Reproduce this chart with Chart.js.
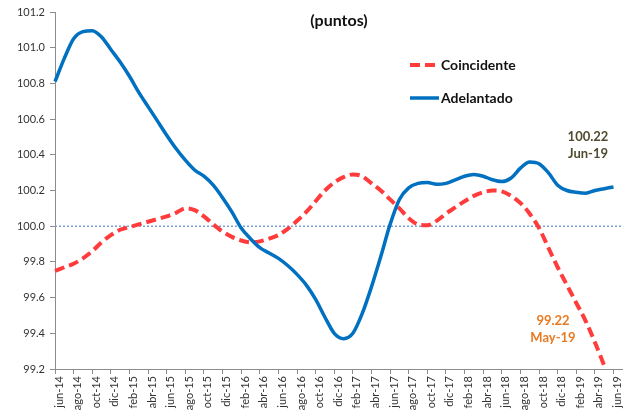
<!DOCTYPE html>
<html>
<head>
<meta charset="utf-8">
<script src="https://cdn.jsdelivr.net/npm/chart.js@4/dist/chart.umd.min.js"></script>
<style>
  html, body { margin: 0; padding: 0; background: #fff; }
  #wrap { width: 638px; height: 410px; }
</style>
</head>
<body>
<div id="wrap"><canvas id="c" width="638" height="410"></canvas></div>
<script>
// Monthly categories, jun-14 .. jul-19
const months = [
  'jun-14','jul-14','ago-14','sep-14','oct-14','nov-14','dic-14',
  'ene-15','feb-15','mar-15','abr-15','may-15','jun-15','jul-15','ago-15','sep-15','oct-15','nov-15','dic-15',
  'ene-16','feb-16','mar-16','abr-16','may-16','jun-16','jul-16','ago-16','sep-16','oct-16','nov-16','dic-16',
  'ene-17','feb-17','mar-17','abr-17','may-17','jun-17','jul-17','ago-17','sep-17','oct-17','nov-17','dic-17',
  'ene-18','feb-18','mar-18','abr-18','may-18','jun-18','jul-18','ago-18','sep-18','oct-18','nov-18','dic-18',
  'ene-19','feb-19','mar-19','abr-19','may-19','jun-19','jul-19'
];

// Indicador coincidente (puntos)
const coincidente = [
  99.75, 99.77, 99.79, 99.82, 99.86, 99.91, 99.95,
  99.98, 99.995, 100.01, 100.025, 100.04, 100.055, 100.075, 100.10, 100.09, 100.055, 100.01, 99.97,
  99.94, 99.92, 99.91, 99.915, 99.93, 99.95, 99.985, 100.03, 100.08, 100.14, 100.20, 100.245,
  100.275, 100.29, 100.28, 100.24, 100.20, 100.15, 100.10, 100.045, 100.01, 100.005, 100.03, 100.07,
  100.105, 100.14, 100.17, 100.19, 100.20, 100.195, 100.17, 100.13, 100.07, 99.99, 99.88, 99.77,
  99.67, 99.57, 99.47, 99.35, 99.22, null, null
];

// Indicador adelantado (puntos)
const adelantado = [
  100.81, 100.94, 101.05, 101.09, 101.095, 101.06, 100.99,
  100.92, 100.84, 100.75, 100.67, 100.59, 100.51, 100.435, 100.37, 100.315, 100.28, 100.23, 100.16,
  100.08, 99.99, 99.93, 99.88, 99.85, 99.82, 99.78, 99.73, 99.67, 99.59, 99.49, 99.40,
  99.37, 99.40, 99.51, 99.66, 99.83, 100.01, 100.15, 100.215, 100.24, 100.245, 100.235, 100.24,
  100.26, 100.28, 100.29, 100.28, 100.26, 100.25, 100.27, 100.325, 100.36, 100.35, 100.30, 100.23,
  100.20, 100.19, 100.185, 100.20, 100.21, 100.22, null
];

// Reference level
const base = months.map(() => 100);

const yTicks = [99.2, 99.4, 99.6, 99.8, 100.0, 100.2, 100.4, 100.6, 100.8, 101.0, 101.2];

// Latest readings
const notes = [
  { value: '100.22', month: 'Jun-19', color: '#504B2F', x: 588, y: 137 },
  { value: '99.22',  month: 'May-19', color: '#E97A22', x: 553, y: 321 }
];

const FONT = 'Lato, "Liberation Sans", Arial, sans-serif';
const RED = '#FF3B3B';
const BLUE = '#0070C0';

const overlay = {
  id: 'overlay',
  afterDraw(chart) {
    const ctx = chart.ctx;
    ctx.save();
    // title
    ctx.fillStyle = '#111';
    ctx.font = 'bold 16px ' + FONT;
    ctx.textAlign = 'center';
    ctx.textBaseline = 'middle';
    ctx.fillText('(puntos)', 339, 21);

    // legend
    const items = [
      { ds: chart.data.datasets[0], y: 65 },
      { ds: chart.data.datasets[1], y: 98 }
    ];
    ctx.font = 'bold 14px ' + FONT;
    ctx.textAlign = 'left';
    items.forEach(it => {
      ctx.beginPath();
      ctx.strokeStyle = it.ds.borderColor;
      ctx.lineWidth = it.ds.borderWidth;
      ctx.setLineDash(it.ds.borderDash || []);
      ctx.moveTo(410, it.y);
      ctx.lineTo(439, it.y);
      ctx.stroke();
      ctx.setLineDash([]);
      ctx.fillStyle = '#111';
      ctx.fillText(it.ds.label, 441, it.y);
    });

    // value notes
    ctx.font = 'bold 13px ' + FONT;
    ctx.textAlign = 'center';
    notes.forEach(n => {
      ctx.fillStyle = n.color;
      ctx.fillText(n.value, n.x, n.y);
      ctx.fillText(n.month, n.x, n.y + 17);
    });
    ctx.restore();
  }
};

new Chart(document.getElementById('c'), {
  type: 'line',
  data: {
    labels: months,
    datasets: [
      {
        label: 'Coincidente',
        data: coincidente,
        borderColor: RED,
        borderWidth: 4,
        borderDash: [10, 5],
        pointRadius: 0,
        cubicInterpolationMode: 'monotone',
        order: 1
      },
      {
        label: 'Adelantado',
        data: adelantado,
        borderColor: BLUE,
        borderWidth: 3.5,
        pointRadius: 0,
        cubicInterpolationMode: 'monotone',
        order: 0
      },
      {
        label: 'Base',
        data: base,
        borderColor: '#7F9FD6',
        borderWidth: 1.5,
        borderDash: [2, 2],
        pointRadius: 0,
        order: 2
      }
    ]
  },
  options: {
    responsive: false,
    animation: false,
    devicePixelRatio: 1,
    layout: { padding: { top: 12, right: 13, left: 0, bottom: 0 } },
    plugins: { legend: { display: false }, tooltip: { enabled: false } },
    scales: {
      x: {
        type: 'category',
        offset: false,
        grid: {
          drawOnChartArea: false,
          drawTicks: true,
          tickLength: 5,
          color: ctx => (ctx.index % 2 === 0 ? '#8c8c8c' : 'rgba(0,0,0,0)')
        },
        border: { color: '#8c8c8c', width: 1 },
        ticks: {
          autoSkip: false,
          minRotation: 90,
          maxRotation: 90,
          padding: 2,
          labelOffset: 4,
          color: '#333',
          font: { family: FONT, size: 11 },
          callback: function (v, i) { return i % 2 === 0 ? this.getLabelForValue(v) : ''; }
        },
        afterFit: s => { s.height = 41; }
      },
      y: {
        type: 'linear',
        min: 99.2,
        max: 101.2,
        afterBuildTicks: s => { s.ticks = yTicks.map(v => ({ value: v })); },
        grid: { drawOnChartArea: false, drawTicks: true, tickLength: 5, color: '#8c8c8c' },
        border: { color: '#8c8c8c', width: 1 },
        ticks: {
          padding: 5,
          color: '#333',
          font: { family: FONT, size: 11 },
          callback: v => Number(v).toFixed(1)
        },
        afterFit: s => { s.width = 55; }
      }
    }
  },
  plugins: [overlay]
});
</script>
</body>
</html>
